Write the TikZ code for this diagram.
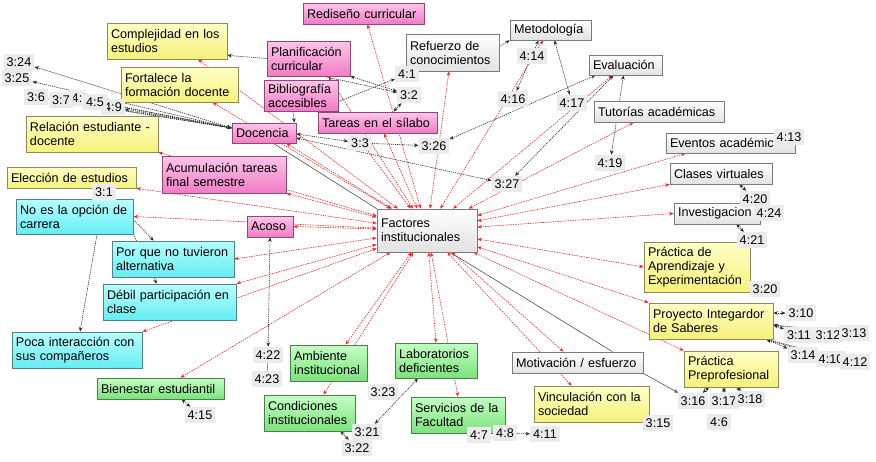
\documentclass[tikz,border=0pt]{standalone}
\usepackage{fontspec}
\setmainfont{Liberation Sans}
\usetikzlibrary{arrows.meta,calc}
\definecolor{pinktop}{HTML}{FFC6EA}
\definecolor{pinkbot}{HTML}{F07CC4}
\definecolor{pinkbd}{HTML}{8A4A72}
\definecolor{yeltop}{HTML}{FFFFC8}
\definecolor{yelbot}{HTML}{F6F27A}
\definecolor{yelbd}{HTML}{8C8A5C}
\definecolor{cyantop}{HTML}{B8FFFF}
\definecolor{cyanbot}{HTML}{66EDF2}
\definecolor{cyanbd}{HTML}{4E8488}
\definecolor{greentop}{HTML}{C4FFC4}
\definecolor{greenbot}{HTML}{7CE27C}
\definecolor{greenbd}{HTML}{4E7E4E}
\definecolor{graybot}{HTML}{E2E2E2}
\definecolor{graybd}{HTML}{7A7A7A}
\definecolor{lblfill}{HTML}{EBEBEB}
\definecolor{redln}{HTML}{F02828}
\definecolor{blkln}{HTML}{2A2A2A}
\definecolor{solidln}{HTML}{505050}
\pgfdeclarelayer{back}
\pgfdeclarelayer{bg}
\pgfsetlayers{back,bg,main}
\newcommand\mkbox[7]{%
 \pgfmathsetmacro\bxcx{(#3+#5)/2}%
 \pgfmathsetmacro\bxcy{(#4+#6)/2}%
 \pgfmathsetmacro\bxw{#5-#3}%
 \pgfmathsetmacro\bxh{#6-#4}%
 \pgfmathsetmacro\bxtw{#5-#3-8}%
 \node[#1, minimum width=\bxw pt, minimum height=\bxh pt, text width=\bxtw pt] (#2) at (\bxcx,\bxcy) {#7};}
\begin{document}
\begin{tikzpicture}[x=1pt,y=-1pt,
  font=\fontsize{12.6}{14}\selectfont,
  >={Stealth[length=4.5pt,width=3.6pt]},
  box/.style={line width=0.7pt, inner xsep=4pt, inner ysep=1pt, align=left},
  pinkb/.style={box, draw=pinkbd, top color=pinktop, bottom color=pinkbot},
  yelb/.style={box, draw=yelbd, top color=yeltop, bottom color=yelbot},
  cyanb/.style={box, draw=cyanbd, top color=cyantop, bottom color=cyanbot},
  greenb/.style={box, draw=greenbd, top color=greentop, bottom color=greenbot},
  grayb/.style={box, draw=graybd, top color=white, bottom color=graybot},
  lbl/.style={fill=lblfill, inner xsep=3pt, inner ysep=3.5pt, text height=9pt, text depth=0pt},
  rl/.style={draw=redln, line width=0.6pt, dash pattern=on 1.5pt off 1pt, <->},
  bl/.style={draw=blkln, line width=0.6pt, dash pattern=on 1.2pt off 0.9pt},
  sl/.style={draw=solidln, line width=0.6pt}]
\begin{pgfonlayer}{back}
\fill[white] (0,0) rectangle (876,461);
\end{pgfonlayer}
\useasboundingbox (0,0) rectangle (876,461);

% ---- boxes ----
\mkbox{pinkb}{redis}{303}{3}{424}{24}{Rediseño curricular}
\mkbox{pinkb}{plan}{267}{41}{350}{76}{Planificación\\curricular}
\mkbox{pinkb}{biblio}{264}{80}{338}{111}{Bibliografía\\accesibles}
\mkbox{pinkb}{tareas}{318}{112}{437}{133}{Tareas en el sílabo}
\mkbox{pinkb}{doc}{232}{123}{296}{143}{Docencia}
\mkbox{pinkb}{acum}{162}{156}{286}{193}{Acumulación tareas\\final semestre}
\mkbox{pinkb}{acoso}{247}{216}{293}{237}{Acoso}

\mkbox{yelb}{compl}{107}{23}{227}{59}{Complejidad en los\\estudios}
\mkbox{yelb}{fort}{121}{67}{238}{102}{Fortalece la\\formación docente}
\mkbox{yelb}{rel}{26}{116}{158}{152}{Relación estudiante -\\docente}
\mkbox{yelb}{elec}{7}{167}{136}{188}{Elección de estudios}
\mkbox{yelb}{pae}{644}{242}{750}{292}{Práctica de\\Aprendizaje y\\Experimentación}
\mkbox{yelb}{pis}{649}{303}{773}{339}{Proyecto Integardor\\de Saberes}
\mkbox{yelb}{ppp}{684}{351}{778}{387}{Práctica\\Preprofesional}
\mkbox{yelb}{vinc}{534}{386}{649}{422}{Vinculación con la\\sociedad}

\mkbox{cyanb}{noes}{16}{199}{133}{234}{No es la opción de\\carrera}
\mkbox{cyanb}{porque}{112}{241}{234}{277}{Por que no tuvieron\\alternativa}
\mkbox{cyanb}{debil}{103}{284}{236}{320}{Débil participación en\\clase}
\mkbox{cyanb}{poca}{12}{332}{142}{368}{Poca interacción con\\sus compañeros}

\mkbox{greenb}{bien}{97}{378}{224}{399}{Bienestar estudiantil}
\mkbox{greenb}{amb}{290}{345}{367}{381}{Ambiente\\institucional}
\mkbox{greenb}{cond}{264}{395}{355}{431}{Condiciones\\institucionales}
\mkbox{greenb}{lab}{395}{343}{477}{378}{Laboratorios\\deficientes}
\mkbox{greenb}{serv}{411}{397}{505}{433}{Servicios de la\\Facultad}

\mkbox{grayb}{fac}{377}{209}{477}{252}{Factores\\institucionales}
\mkbox{grayb}{ref}{406}{34}{499}{71}{Refuerzo de\\conocimientos}
\mkbox{grayb}{met}{510}{20}{591}{40}{Metodología}
\mkbox{grayb}{eval}{589}{55}{662}{75}{Evaluación}
\mkbox{grayb}{tut}{594}{101}{724}{122}{Tutorías académicas}
\mkbox{grayb}{event}{666}{133}{795}{153}{Eventos académic}
\mkbox{grayb}{clases}{670}{163}{772}{184}{Clases virtuales}
\mkbox{grayb}{inv}{674}{203}{760}{224}{Investigacion}
\mkbox{grayb}{mot}{512}{352}{643}{373}{Motivación / esfuerzo}

% ---- labels ----
\node[lbl] (l324) at (19,62) {3:24};
\node[lbl] (l325) at (17,78) {3:25};
\node[lbl] (l4x) at (77,98) {4:};
\node[lbl] (l49) at (113,107) {4:9};
\node[lbl] (l36) at (36,97) {3:6};
\node[lbl] (l37) at (61,100) {3:7};
\node[lbl] (l45) at (95,102) {4:5};
\node[lbl] (l31) at (104,192) {3:1};
\node[lbl] (l41) at (407,74) {4:1};
\node[lbl] (l32) at (409,95) {3:2};
\node[lbl] (l33) at (360,143) {3:3};
\node[lbl] (l326) at (434,146) {3:26};
\node[lbl] (l414) at (532,56) {4:14};
\node[lbl] (l416) at (513,99) {4:16};
\node[lbl] (l417) at (572,103) {4:17};
\node[lbl] (l327) at (507,184) {3:27};
\node[lbl] (l419) at (610,163) {4:19};
\node[lbl] (l413) at (789,137) {4:13};
\node[lbl] (l420) at (755,199) {4:20};
\node[lbl] (l424) at (769,213) {4:24};
\node[lbl] (l421) at (752,240) {4:21};
\node[lbl] (l320) at (765,289) {3:20};
\node[lbl] (l310) at (801,313) {3:10};
\node[lbl] (l311) at (799,335) {3:11};
\node[lbl] (l312) at (828,335) {3:12};
\node[lbl] (l313) at (854,333) {3:13};
\node[lbl] (l314) at (803,355) {3:14};
\node[lbl] (l410) at (831,359) {4:10};
\node[lbl] (l412) at (855,362) {4:12};
\node[lbl] (l316) at (693,401) {3:16};
\node[lbl] (l317) at (724,401) {3:17};
\node[lbl] (l318) at (750,399) {3:18};
\node[lbl] (l46) at (719,422) {4:6};
\node[lbl] (l315) at (658,423) {3:15};
\node[lbl] (l422) at (268,355) {4:22};
\node[lbl] (l423) at (267,379) {4:23};
\node[lbl] (l415) at (200,415) {4:15};
\node[lbl] (l323) at (383,392) {3:23};
\node[lbl] (l321) at (367,432) {3:21};
\node[lbl] (l322) at (357,448) {3:22};
\node[lbl] (l47) at (479,435) {4:7};
\node[lbl] (l48) at (505,433) {4:8};
\node[lbl] (l411) at (545,434) {4:11};

% ---- connectors ----
\begin{pgfonlayer}{bg}
\draw[rl] (fac) -- ([xshift=4pt]redis.south);
\draw[rl] (fac) -- ([xshift=31pt]compl.south);
\draw[rl] (fac) -- ([xshift=33pt]fort.south);
\draw[rl] (fac) -- (rel.south east);
\draw[rl] (fac) -- ([xshift=-10pt]doc.south east);
\draw[rl] (fac) -- (acum.south east);
\draw[rl] (fac) -- ([xshift=20pt]plan.south);
\draw[rl] (fac) -- (biblio.south east);
\draw[rl] (fac) -- ([xshift=6.5pt]tareas.south);
\draw[rl] (fac) -- ([xshift=-3.5pt]ref.south);
\draw[rl] (fac) -- ([xshift=-7.5pt]met.south);
\draw[rl] (fac) -- ([xshift=-13pt]eval.south);
\draw[rl] (fac) -- ([xshift=40pt]tut.south west);
\draw[rl] (fac) -- ([xshift=20pt]event.south west);
\draw[rl] (fac) -- (clases.south west);
\draw[rl] (fac) -- (inv.west);
\draw[rl] (fac) -- (pae.west);
\draw[rl] (fac) -- (pis.north west);
\draw[rl] (fac) -- (ppp.north west);
\draw[rl] (fac) -- ([xshift=-20pt]vinc.north);
\draw[rl] (fac) -- ([xshift=-14pt]mot.north);
\draw[rl] (fac) -- (serv.north);
\draw[rl] (fac) -- (lab.north);
\draw[rl] (fac) -- ([xshift=14pt]cond.north);
\draw[rl] (fac) -- ([xshift=17pt]amb.north);
\draw[rl] (fac) -- ([xshift=20pt]bien.north);
\draw[rl] (fac) -- (poca.north east);
\draw[rl] (fac) -- (debil.north east);
\draw[rl] (fac) -- (porque.east);
\draw[rl] (fac) -- (acoso.east);
\draw[rl] (fac) -- (noes.east);
\draw[rl] (fac) -- (elec.south east);

\foreach \t in {l324,l325,l36,l37,l4x,l45,l49}
  \draw[bl,<->] ([yshift=5pt]doc.west) -- (\t);
\draw[bl,->] (plan.west) -- ([yshift=4pt]compl.south east);
\draw[bl,->] ([xshift=-27pt]plan.south east) -- (l32);
\draw[bl,<->] (plan.south east) -- (l32);
\draw[bl,->] ([yshift=-6pt]biblio.east) -- (l41);
\draw[bl,<->] (l32) -- ([xshift=16pt]tareas.north);
\draw[bl,->] ([xshift=-8pt]biblio.south) -- ([xshift=-2pt]doc.north east);
\draw[bl,<->] ([yshift=-1pt]doc.east) -- (l33);
\draw[bl,->] (l33) -- (l326);
\draw[bl,<->] ([yshift=-5pt]doc.east) -- (l327);
\draw[bl,<->] (l326) -- ([xshift=-30pt]eval.south);
\draw[bl,->] ([yshift=6pt]ref.east) -- (met.south west);
\draw[bl,<->] ([xshift=-12pt]met.south) -- (l416);
\draw[bl,<->] ([xshift=4pt]met.south) -- (l417);
\draw[bl,<->] ([xshift=-12pt]eval.south) -- (l327);
\draw[bl,<->] ([xshift=-2pt]eval.south) -- (l419);
\draw[bl,<->] ([xshift=-33pt]clases.south east) -- (l420);
\draw[bl,<->] ([xshift=-24pt]inv.south east) -- (l421);
\draw[bl,<->] ([yshift=8pt]pis.east) -- (l310);
\foreach \t in {l311,l312,l313}
  \draw[bl,<->] ([yshift=-4pt]pis.east) -- (\t);
\foreach \t in {l314,l410,l412}
  \draw[bl,<->] ([xshift=-7pt]pis.south east) -- (\t);
\draw[bl,<->] ([xshift=-22pt]ppp.south) -- (l316);
\draw[bl,<->] ([xshift=-7pt]ppp.south) -- (l317);
\draw[bl,<->] ([xshift=6pt]ppp.south) -- (l318);
\draw[bl,<->] (acoso.south) -- (l422);
\draw[bl] (l422) -- (l423);
\draw[bl,->] ([yshift=-3pt]noes.east) -- ([xshift=42pt]porque.north west);
\draw[bl,->] (noes.south east) -- ([xshift=54pt]debil.north west);
\draw[bl,->] ([xshift=22.5pt]noes.south) -- ([xshift=3pt]poca.north);
\draw[bl,<->] ([xshift=21pt]bien.south) -- (l415);
\draw[bl,<->] ([xshift=-15pt]cond.south east) -- (l322);
\draw[bl,<->] ([xshift=-18pt]lab.south) -- (l321);
\draw[bl,<->] (serv.south east) -- (l411);
\draw[sl] ([xshift=-23pt]doc.south east) -- (fac.north west);
\draw[sl] ([xshift=-27pt]fac.south east) -- ([xshift=35pt]mot.north);
\draw[sl,->] (mot.south east) -- (l316);
\end{pgfonlayer}
\end{tikzpicture}
\end{document}
